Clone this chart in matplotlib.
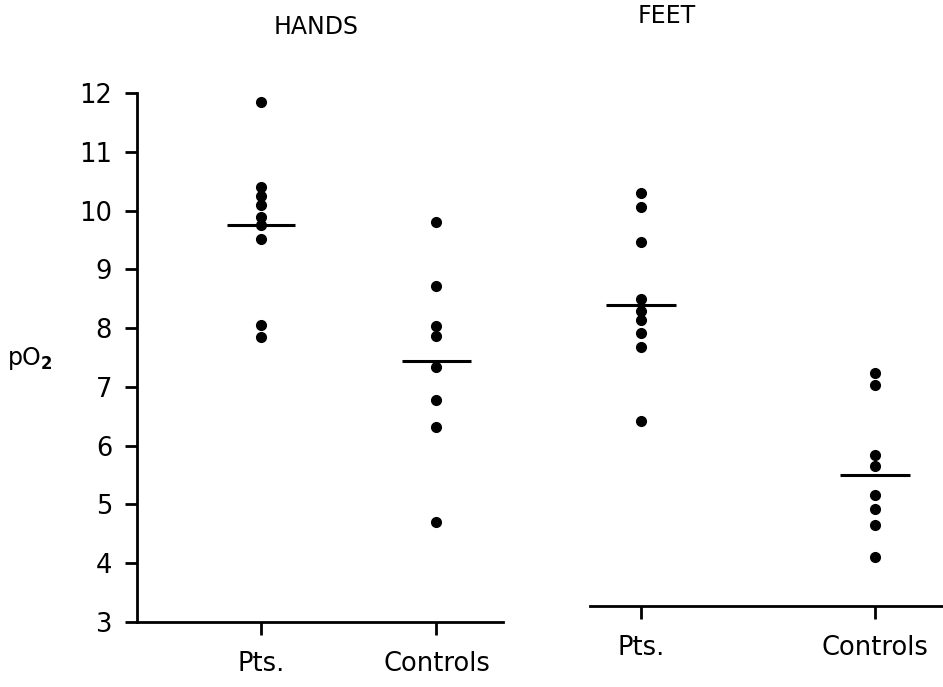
import matplotlib
matplotlib.use("Agg")
import matplotlib.pyplot as plt
from matplotlib import font_manager

# ---------------- data ----------------
categories = ["Pts.", "Controls"]
panel_titles = ["HANDS", "FEET"]
y_ticks = [3, 4, 5, 6, 7, 8, 9, 10, 11, 12]

hands_pts = [11.86, 10.41, 10.25, 10.09, 9.90, 9.76, 9.51, 8.05, 7.85]
hands_controls = [9.81, 8.72, 8.04, 7.87, 7.34, 6.77, 6.32, 4.69]
feet_pts = [10.31, 10.06, 9.47, 8.49, 8.30, 8.14, 7.92, 7.68, 6.42]
feet_controls = [7.23, 7.03, 5.84, 5.66, 5.15, 4.92, 4.65, 4.10]

hands_means = [9.76, 7.44]
feet_means = [8.39, 5.50]

# ---------------- style ----------------
avail = {f.name for f in font_manager.fontManager.ttflist}
fam = "Liberation Sans Narrow" if "Liberation Sans Narrow" in avail else "DejaVu Sans"
plt.rcParams["font.family"] = [fam, "DejaVu Sans"]
FS = 17
TFS = 18.5

W, H = 943, 687
fig = plt.figure(figsize=(W / 100, H / 100), dpi=100)

y_bottom_px = 621.7
y_top_px = 93.3
ax_bottom = (H - y_bottom_px) / H
ax_height = (y_bottom_px - y_top_px) / H

axL = fig.add_axes([137 / W, ax_bottom, (503 - 137) / W, ax_height])
axR = fig.add_axes([590 / W, ax_bottom, (943 - 590) / W, ax_height])

axR.spines["bottom"].set_position(("data", 3.27))
axR.spines["left"].set_visible(False)

for ax in (axL, axR):
    ax.set_ylim(3, 12)
    for s in ("top", "right"):
        ax.spines[s].set_visible(False)
    ax.spines["bottom"].set_linewidth(2)
    ax.spines["left"].set_linewidth(2)
    ax.set_xticks(range(len(categories)))
    ax.set_xticklabels(categories, fontsize=TFS)
    ax.tick_params(axis="x", direction="out", length=9, width=2, pad=12, labelsize=TFS)
    ax.tick_params(axis="y", direction="out", length=9, width=2, pad=9, labelsize=TFS)
    ax.patch.set_alpha(0)

axL.set_xlim(-0.71, 1.38)
axR.set_xlim(-0.22, 1.29)

axL.set_yticks(y_ticks)
axL.set_yticklabels([str(t) for t in y_ticks])
axR.set_yticks([])

def draw_panel(ax, groups, means, half):
    for i, vals in enumerate(groups):
        ax.plot([i] * len(vals), vals, "o", color="black", markersize=7,
                linestyle="none", clip_on=False)
        ax.plot([i - half, i + half], [means[i], means[i]], color="black",
                linewidth=2.2, solid_capstyle="butt")

draw_panel(axL, [hands_pts, hands_controls], hands_means, 0.195)
draw_panel(axR, [feet_pts, feet_controls], feet_means, 0.15)

fig.text(316 / W, 1 - 27 / H, panel_titles[0], ha="center", va="center", fontsize=FS)
fig.text(667 / W, 1 - 16 / H, panel_titles[1], ha="center", va="center", fontsize=FS)
fig.text(30 / W, 1 - 358 / H, r"pO$_{\mathbf{2}}$", ha="center", va="center", fontsize=FS)

fig.savefig("out.png", dpi=100, facecolor="white")
